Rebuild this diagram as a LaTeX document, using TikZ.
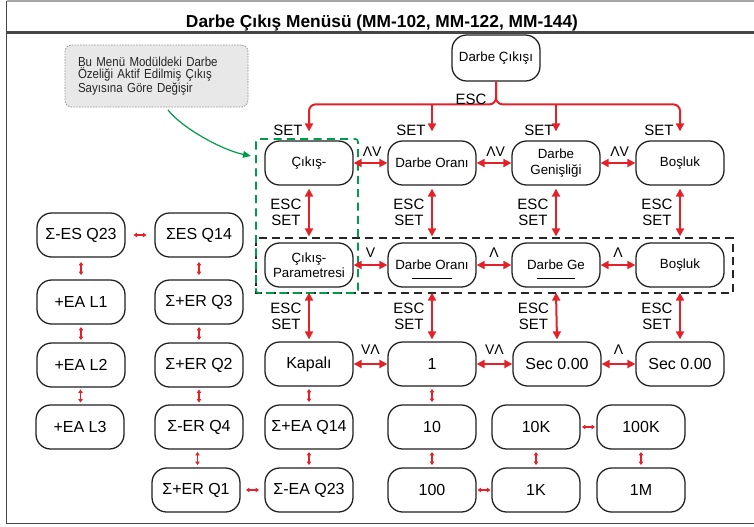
\documentclass[tikz,border=0pt]{standalone}
\usepackage{fontspec}
\setmainfont{Liberation Sans}
\newfontfamily\notefont[FakeStretch=0.88]{Liberation Sans}
\usetikzlibrary{arrows.meta,calc}

\definecolor{arrred}{RGB}{228,32,40}
\definecolor{dashgreen}{RGB}{0,155,75}
\definecolor{notefill}{RGB}{232,232,232}
\definecolor{framegray}{RGB}{70,70,70}

% short red link between two neighbouring boxes
\newcommand\vlink[2]{\draw[smallarr] ($(#1.south)!.5!(#2.north)$) ++(0,-6.5) -- ++(0,13);}
\newcommand\hlink[2]{\draw[smallarr] ($(#1.east)!.5!(#2.west)$) ++(-6.5,0) -- ++(13,0);}

\begin{document}
\begin{tikzpicture}[x=0.75pt,y=-0.75pt,
  menubox/.style={draw=black!88, line width=0.95pt, rounded corners=11pt,
    minimum width=66pt, minimum height=33pt, inner sep=1pt, align=center,
    font=\fontsize{10}{11.5}\selectfont},
  valbox/.style={menubox, font=\fontsize{12}{13}\selectfont},
  bigarr/.style={draw=arrred, line width=1.5pt,
    {Triangle[length=6pt,width=6pt]}-{Triangle[length=6pt,width=6pt]}},
  downarr/.style={draw=arrred, line width=1.5pt, rounded corners=5pt,
    -{Triangle[length=6pt,width=6pt]}},
  smallarr/.style={draw=arrred, line width=0.9pt,
    {Triangle[length=2.6pt,width=3.4pt]}-{Triangle[length=2.6pt,width=3.4pt]}},
  keylbl/.style={font=\fontsize{11.25}{12}\selectfont, align=center, inner sep=0pt},
  esclbl/.style={keylbl, left=5pt},
  dirlbl/.style={font=\fontsize{10.5}{12}\selectfont, inner sep=0pt},
  note/.style={draw=gray!85, dash pattern=on 1.2pt off 0.9pt, line width=0.6pt,
    fill=notefill, rounded corners=5pt, align=left, text width=117.75pt,
    inner xsep=9.75pt, minimum height=46.5pt, text=black!85,
    font=\notefont\fontsize{9.8}{8.8}\selectfont},
  groupgreen/.style={draw=dashgreen, line width=1.2pt, dash pattern=on 6pt off 4pt, rounded corners=2pt},
  groupblack/.style={draw=black!85, line width=1.2pt, dash pattern=on 6pt off 4pt}
]
\useasboundingbox (0,0) rectangle (754,526);

% frame and title bar
\draw[gray!70, line width=0.8pt] (6.5,1) -- (754,1);
\draw[framegray, line width=1.1pt] (6.5,1) -- (6.5,523.5) -- (754,523.5);
\draw[framegray, line width=1.6pt] (6.5,32.5) -- (754,32.5);
\node[font=\bfseries\fontsize{13}{14}\selectfont, anchor=base] (title) at (382,27)
  {Darbe Çıkış Menüsü (MM-102, MM-122, MM-144)};

% note with its pointer
\node[note] (note) at (156.5,76) {Bu Menü Modüldeki Darbe\\Özeliği Aktif Edilmiş Çıkış\\Sayısına Göre Değişir};
\coordinate (gstart) at (168,110);
\coordinate (gtip) at (251,156);
\draw[dashgreen, line width=0.9pt, -{Triangle[length=6pt,width=5pt]}]
  (gstart) .. controls (182,128) and (222,150) .. (gtip);

% group frames
\draw[groupblack] (256,238) rectangle (733,293);
\draw[groupgreen] (256,139) rectangle (358,293);

% top entry
\node[menubox, minimum height=34.5pt] (top) at (496,58) {Darbe Çıkışı};

% first level
\node[menubox] (r1a) at (309,163) {Çıkış-};
\node[menubox] (r1b) at (432,163) {Darbe Oranı};
\node[menubox] (r1c) at (556,163) {Darbe\\Genişliği};
\node[menubox] (r1d) at (680,163) {Boşluk};

% second level
\node[menubox] (r2a) at (309,265) {Çıkış-\\Parametresi};
\node[menubox] (r2b) at (432,265) {Darbe Oranı};
\node[menubox] (r2c) at (556,265) {Darbe Ge};
\node[menubox] (r2d) at (680,265) {Boşluk};
\draw[line width=0.7pt] ($(r2b.center)+(-20,13)$) -- ($(r2b.center)+(20,13)$);
\draw[line width=0.7pt] ($(r2c.center)+(-19,13)$) -- ($(r2c.center)+(19,13)$);

% values
\node[valbox] (r3a) at (309,364) {Kapalı};
\node[valbox] (r3b) at (432,364) {1};
\node[valbox] (r3c) at (557,364) {Sec 0.00};
\node[valbox] (r3d) at (680,364) {Sec 0.00};

\node[valbox] (r4a) at (309,427) {Σ+EA Q14};
\node[valbox] (r4b) at (432,427) {10};
\node[valbox] (r4c) at (536,427) {10K};
\node[valbox] (r4d) at (641,427) {100K};

\node[valbox] (r5a) at (309,490) {Σ-EA Q23};
\node[valbox] (r5b) at (432,490) {100};
\node[valbox] (r5c) at (536,490) {1K};
\node[valbox] (r5d) at (641,490) {1M};

\node[valbox] (la1) at (81,235) {Σ-ES Q23};
\node[valbox] (la2) at (81,302) {+EA L1};
\node[valbox] (la3) at (81,365) {+EA L2};
\node[valbox] (la4) at (80,427) {+EA L3};

\node[valbox] (lb1) at (199,235) {ΣES Q14};
\node[valbox] (lb2) at (199,302) {Σ+ER Q3};
\node[valbox] (lb3) at (199,365) {Σ+ER Q2};
\node[valbox] (lb4) at (199,427) {Σ-ER Q4};
\node[valbox] (lb5) at (196,490) {Σ+ER Q1};

% ESC / SET from the top entry
\draw[downarr] (top.south) |- ($(r1a.north)+(0,-36)$) -- ($(r1a.north)+(0,-9)$);
\draw[downarr] (top.south) |- ($(r1d.north)+(0,-36)$) -- ($(r1d.north)+(0,-9)$);
\draw[downarr] ($(r1b.north)+(0,-36)$) -- ($(r1b.north)+(0,-9)$);
\draw[downarr] ($(r1c.north)+(0,-36)$) -- ($(r1c.north)+(0,-9)$);
\node[keylbl, anchor=base] (escTop) at (471,104) {ESC};
\node[keylbl, anchor=base] (setA) at (288,135) {SET};
\node[keylbl, anchor=base] (setB) at (411,135) {SET};
\node[keylbl, anchor=base] (setC) at (539,135) {SET};
\node[keylbl, anchor=base] (setD) at (659,135) {SET};

% first level row links
\draw[bigarr] (r1a.east) -- node[dirlbl, pos=.55, yshift=8.6pt] {ΛV} (r1b.west);
\draw[bigarr] (r1b.east) -- node[dirlbl, pos=.55, yshift=8.6pt] {ΛV} (r1c.west);
\draw[bigarr] (r1c.east) -- node[dirlbl, pos=.55, yshift=8.6pt] {ΛV} (r1d.west);

% second level row links
\draw[bigarr] (r2a.east) -- node[dirlbl, yshift=9pt] {V} (r2b.west);
\draw[bigarr] (r2b.east) -- node[dirlbl, yshift=9pt] {Λ} (r2c.west);
\draw[bigarr] (r2c.east) -- node[dirlbl, yshift=9pt] {Λ} (r2d.west);

% value row links
\draw[bigarr] (r3a.east) -- node[dirlbl, yshift=10.6pt] {VΛ} (r3b.west);
\draw[bigarr] (r3b.east) -- node[dirlbl, yshift=10.6pt] {VΛ} (r3c.west);
\draw[bigarr] (r3c.east) -- node[dirlbl, yshift=10.6pt] {Λ} (r3d.west);

% level changes
\foreach \c in {a,b,c,d}{
  \draw[bigarr] ([yshift=-2.25pt]r1\c.south) -- node[esclbl] {ESC\\SET} ([yshift=4.5pt]r2\c.north);
  \draw[bigarr] ([yshift=-3.75pt]r2\c.south) -- node[esclbl] {ESC\\SET} ([yshift=1.5pt]r3\c.north);
}

% value chains
\vlink{r3a}{r4a}
\vlink{r4a}{r5a}
\hlink{lb5}{r5a}
\vlink{lb4}{lb5}
\vlink{lb3}{lb4}
\vlink{lb2}{lb3}
\vlink{lb1}{lb2}
\hlink{la1}{lb1}
\vlink{la1}{la2}
\vlink{la2}{la3}
\vlink{la3}{la4}

\vlink{r3b}{r4b}
\vlink{r4b}{r5b}
\hlink{r5b}{r5c}
\vlink{r4c}{r5c}
\hlink{r4c}{r4d}
\vlink{r4d}{r5d}
\end{tikzpicture}
\end{document}
